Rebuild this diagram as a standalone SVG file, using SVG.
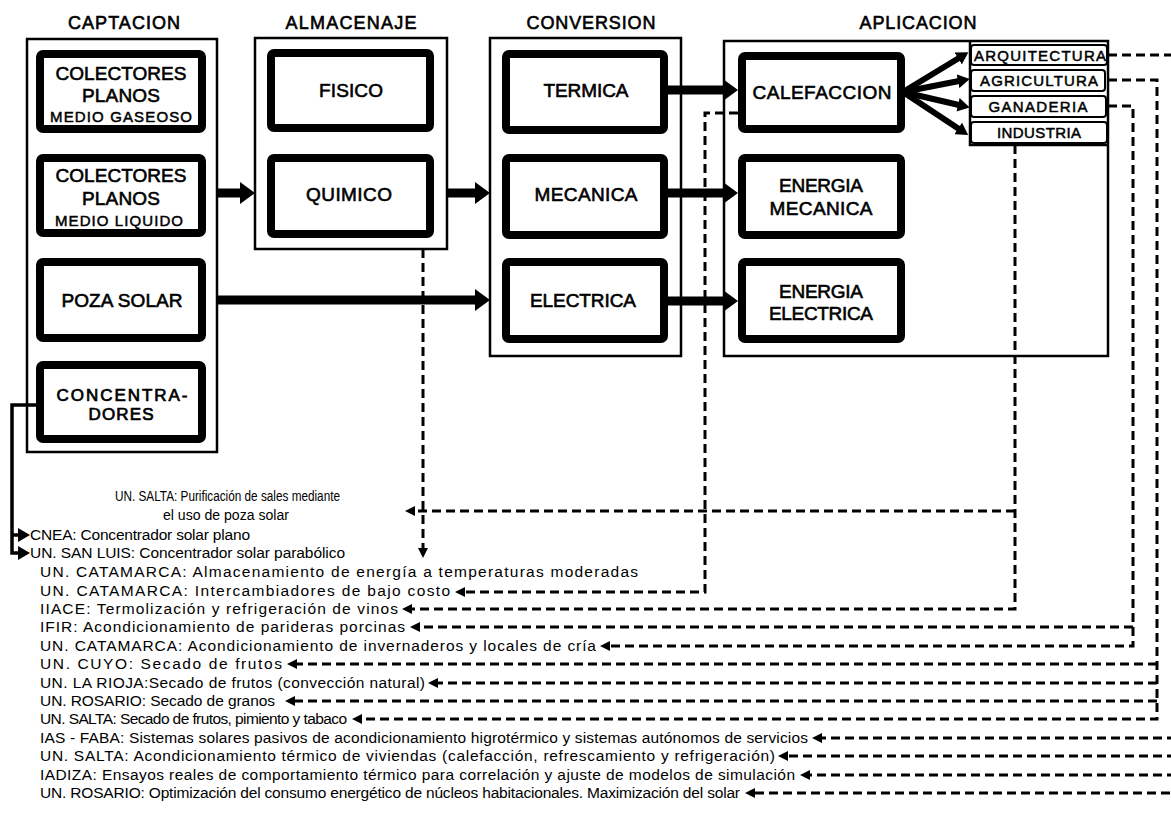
<svg xmlns="http://www.w3.org/2000/svg" width="1171" height="833" viewBox="0 0 1171 833">
<style>
.bg{fill:#fff}
.outer{fill:none;stroke:#000;stroke-width:2.5}
.box{fill:#fff;stroke:#000;stroke-width:8}
.sbox{fill:#fff;stroke:#000;stroke-width:2}
.hdr{font-family:"Liberation Sans",Arial,sans-serif;font-size:18px;text-anchor:middle;stroke:#000;stroke-width:0.6}
.lbl{font-family:"Liberation Sans",Arial,sans-serif;font-size:19px;text-anchor:middle;stroke:#000;stroke-width:0.6}
.lbl2{font-family:"Liberation Sans",Arial,sans-serif;font-size:17px;text-anchor:middle;stroke:#000;stroke-width:0.7}
.sub{font-family:"Liberation Sans",Arial,sans-serif;font-size:15px;text-anchor:middle;stroke:#000;stroke-width:0.5}
.sml{font-family:"Liberation Sans",Arial,sans-serif;font-size:15px;text-anchor:middle;stroke:#000;stroke-width:0.5}
.item{font-family:"Liberation Sans",Arial,sans-serif;font-size:15.5px}
.cond{font-family:"Liberation Sans",Arial,sans-serif;font-size:14px}
.thick{fill:none;stroke:#000;stroke-width:9}
.fan{fill:none;stroke:#000;stroke-width:6}
.dash{fill:none;stroke:#000;stroke-width:3;stroke-dasharray:9 5}
.solid{fill:none;stroke:#000;stroke-width:3.5}
</style>
<defs>
<marker id="hT" markerUnits="userSpaceOnUse" markerWidth="15" markerHeight="22" refX="1" refY="11" orient="auto"><path d="M0,0 L15,11 L0,22 Z" fill="#000"/></marker>
<marker id="hF" markerUnits="userSpaceOnUse" markerWidth="12" markerHeight="14" refX="1" refY="7" orient="auto"><path d="M0,0 L12,7 L0,14 Z" fill="#000"/></marker>
<marker id="hD" markerUnits="userSpaceOnUse" markerWidth="10" markerHeight="10" refX="1" refY="5" orient="auto"><path d="M0,0 L10,5 L0,10 Z" fill="#000"/></marker>
</defs>
<rect class="bg" x="0" y="0" width="1171" height="833"/>

<g id="headers">
<text class="hdr" x="124" y="29" textLength="112">CAPTACION</text>
<text class="hdr" x="351" y="29" textLength="131">ALMACENAJE</text>
<text class="hdr" x="591" y="29" textLength="129">CONVERSION</text>
<text class="hdr" x="918" y="29" textLength="117">APLICACION</text>
</g>

<g id="captacion">
<rect class="outer" x="27" y="39" width="190" height="413"/>
<g id="colectores-gaseoso"><rect class="box" x="40" y="54" width="162" height="75" rx="3"/>
<text class="lbl" x="121" y="80" textLength="131">COLECTORES</text><text class="lbl" x="121" y="102" textLength="78">PLANOS</text><text class="sub" x="121" y="122" textLength="142">MEDIO GASEOSO</text></g>
<g id="colectores-liquido"><rect class="box" x="40" y="158" width="162" height="75" rx="3"/>
<text class="lbl" x="121" y="182" textLength="131">COLECTORES</text><text class="lbl" x="121" y="205" textLength="78">PLANOS</text><text class="sub" x="119" y="226" textLength="128">MEDIO LIQUIDO</text></g>
<g id="poza-solar"><rect class="box" x="40" y="262" width="162" height="76" rx="3"/>
<text class="lbl" x="122" y="307" textLength="121">POZA SOLAR</text></g>
<g id="concentradores"><rect class="box" x="40" y="365" width="162" height="74" rx="3"/>
<text class="lbl2" x="122" y="400.5" textLength="131">CONCENTRA-</text><text class="lbl2" x="121" y="420" textLength="65">DORES</text></g>
</g>

<g id="almacenaje">
<rect class="outer" x="255" y="38" width="192" height="211"/>
<g id="fisico"><rect class="box" x="271" y="53" width="159" height="75" rx="3"/><text class="lbl" x="351" y="97" textLength="64">FISICO</text></g>
<g id="quimico"><rect class="box" x="271" y="158" width="159" height="76" rx="3"/><text class="lbl" x="349" y="201" textLength="86">QUIMICO</text></g>
</g>

<g id="conversion">
<rect class="outer" x="490" y="38" width="191" height="318"/>
<g id="termica"><rect class="box" x="506" y="54" width="158" height="76" rx="3"/><text class="lbl" x="586" y="97" textLength="85">TERMICA</text></g>
<g id="mecanica"><rect class="box" x="506" y="158" width="158" height="77" rx="3"/><text class="lbl" x="586" y="201" textLength="103">MECANICA</text></g>
<g id="electrica"><rect class="box" x="506" y="262" width="158" height="77" rx="3"/><text class="lbl" x="583" y="307" textLength="106">ELECTRICA</text></g>
</g>

<g id="aplicacion">
<rect class="outer" x="724" y="41" width="384" height="315"/>
<g id="calefaccion"><rect class="box" x="742" y="56" width="159" height="73" rx="3"/><text class="lbl" x="822" y="99" textLength="139">CALEFACCION</text></g>
<g id="energia-mecanica"><rect class="box" x="742" y="158" width="159" height="77" rx="3"/><text class="lbl" x="821" y="192" textLength="84">ENERGIA</text><text class="lbl" x="821" y="215" textLength="103">MECANICA</text></g>
<g id="energia-electrica"><rect class="box" x="742" y="262" width="159" height="77" rx="3"/><text class="lbl" x="821" y="298" textLength="84">ENERGIA</text><text class="lbl" x="821" y="320" textLength="104">ELECTRICA</text></g>
<path class="outer" d="M970,41 V145 H1108"/>
<g id="arquitectura"><rect class="sbox" x="971" y="45" width="136" height="20" rx="3"/><text class="sml" x="1040" y="61" textLength="132">ARQUITECTURA</text></g>
<g id="agricultura"><rect class="sbox" x="971" y="70" width="134" height="21" rx="3"/><text class="sml" x="1039" y="86" textLength="118">AGRICULTURA</text></g>
<g id="ganaderia"><rect class="sbox" x="971" y="96" width="135" height="21" rx="3"/><text class="sml" x="1038" y="112" textLength="99">GANADERIA</text></g>
<g id="industria"><rect class="sbox" x="971" y="122" width="136" height="21" rx="3"/><text class="sml" x="1039" y="138" textLength="84">INDUSTRIA</text></g>
</g>

<g id="connectors">
<line class="thick" x1="217" y1="193" x2="241" y2="193" marker-end="url(#hT)"/>
<line class="thick" x1="447" y1="193" x2="476" y2="193" marker-end="url(#hT)"/>
<line class="thick" x1="217" y1="300" x2="476" y2="300" marker-end="url(#hT)"/>
<line class="thick" x1="668" y1="90" x2="724" y2="90" marker-end="url(#hT)"/>
<line class="thick" x1="668" y1="193" x2="724" y2="193" marker-end="url(#hT)"/>
<line class="thick" x1="668" y1="301" x2="724" y2="301" marker-end="url(#hT)"/>
<line class="fan" x1="903" y1="92" x2="959" y2="58" marker-end="url(#hF)"/>
<line class="fan" x1="903" y1="92" x2="959" y2="81" marker-end="url(#hF)"/>
<line class="fan" x1="903" y1="92" x2="959" y2="105" marker-end="url(#hF)"/>
<line class="fan" x1="903" y1="92" x2="959" y2="129" marker-end="url(#hF)"/>

<path class="solid" d="M36,405 H12 V553 H19" marker-end="url(#hF)"/>
<path class="solid" d="M12,535 H19" marker-end="url(#hF)"/>

<path class="dash" d="M423,249 V549" marker-end="url(#hD)"/>
<path class="dash" d="M738,113 H705 V592 H464" marker-end="url(#hD)"/>
<path class="dash" d="M1015,145 V609 H411" marker-end="url(#hD)"/>
<path class="dash" d="M1015,511 H414" marker-end="url(#hD)"/>
<path class="dash" d="M1108,106 H1133 V646 H609" marker-end="url(#hD)"/>
<path class="dash" d="M1133,627 H419" marker-end="url(#hD)"/>
<path class="dash" d="M1108,80 H1157 V719 H361" marker-end="url(#hD)"/>
<path class="dash" d="M1157,664 H296" marker-end="url(#hD)"/>
<path class="dash" d="M1157,683 H437" marker-end="url(#hD)"/>
<path class="dash" d="M1157,701 H294" marker-end="url(#hD)"/>
<path class="dash" d="M1108,55 H1176 V793 H754" marker-end="url(#hD)"/>
<path class="dash" d="M1176,738 H821" marker-end="url(#hD)"/>
<path class="dash" d="M1176,756 H787" marker-end="url(#hD)"/>
<path class="dash" d="M1176,775 H809" marker-end="url(#hD)"/>
</g>

<g id="projects">
<text class="cond" x="115" y="501" textLength="225" lengthAdjust="spacingAndGlyphs">UN. SALTA: Purificación de sales mediante</text>
<text class="cond" x="163" y="520" textLength="126" lengthAdjust="spacingAndGlyphs">el uso de poza solar</text>
<text class="item" x="30" y="540" textLength="220">CNEA: Concentrador solar plano</text>
<text class="item" x="30" y="558" textLength="315">UN. SAN LUIS: Concentrador solar parabólico</text>
<text class="item" x="40" y="577" textLength="598">UN. CATAMARCA: Almacenamiento de energía a temperaturas moderadas</text>
<text class="item" x="40" y="596" textLength="410">UN. CATAMARCA: Intercambiadores de bajo costo</text>
<text class="item" x="40" y="614" textLength="358">IIACE: Termolización y refrigeración de vinos</text>
<text class="item" x="40" y="632" textLength="365">IFIR: Acondicionamiento de parideras porcinas</text>
<text class="item" x="40" y="651" textLength="556">UN. CATAMARCA: Acondicionamiento de invernaderos y locales de cría</text>
<text class="item" x="40" y="669" textLength="242">UN. CUYO: Secado de frutos</text>
<text class="item" x="40" y="688" textLength="385">UN. LA RIOJA:Secado de frutos (convección natural)</text>
<text class="item" x="40" y="706" textLength="235">UN. ROSARIO: Secado de granos</text>
<text class="item" x="40" y="724" textLength="307">UN. SALTA: Secado de frutos, pimiento y tabaco</text>
<text class="item" x="40" y="743" textLength="768">IAS - FABA: Sistemas solares pasivos de acondicionamiento higrotérmico y sistemas autónomos de servicios</text>
<text class="item" x="40" y="761" textLength="735">UN. SALTA: Acondicionamiento térmico de viviendas (calefacción, refrescamiento y refrigeración)</text>
<text class="item" x="40" y="780" textLength="755">IADIZA: Ensayos reales de comportamiento térmico para correlación y ajuste de modelos de simulación</text>
<text class="item" x="40" y="798" textLength="700">UN. ROSARIO: Optimización del consumo energético de núcleos habitacionales. Maximización del solar</text>
</g>
</svg>
